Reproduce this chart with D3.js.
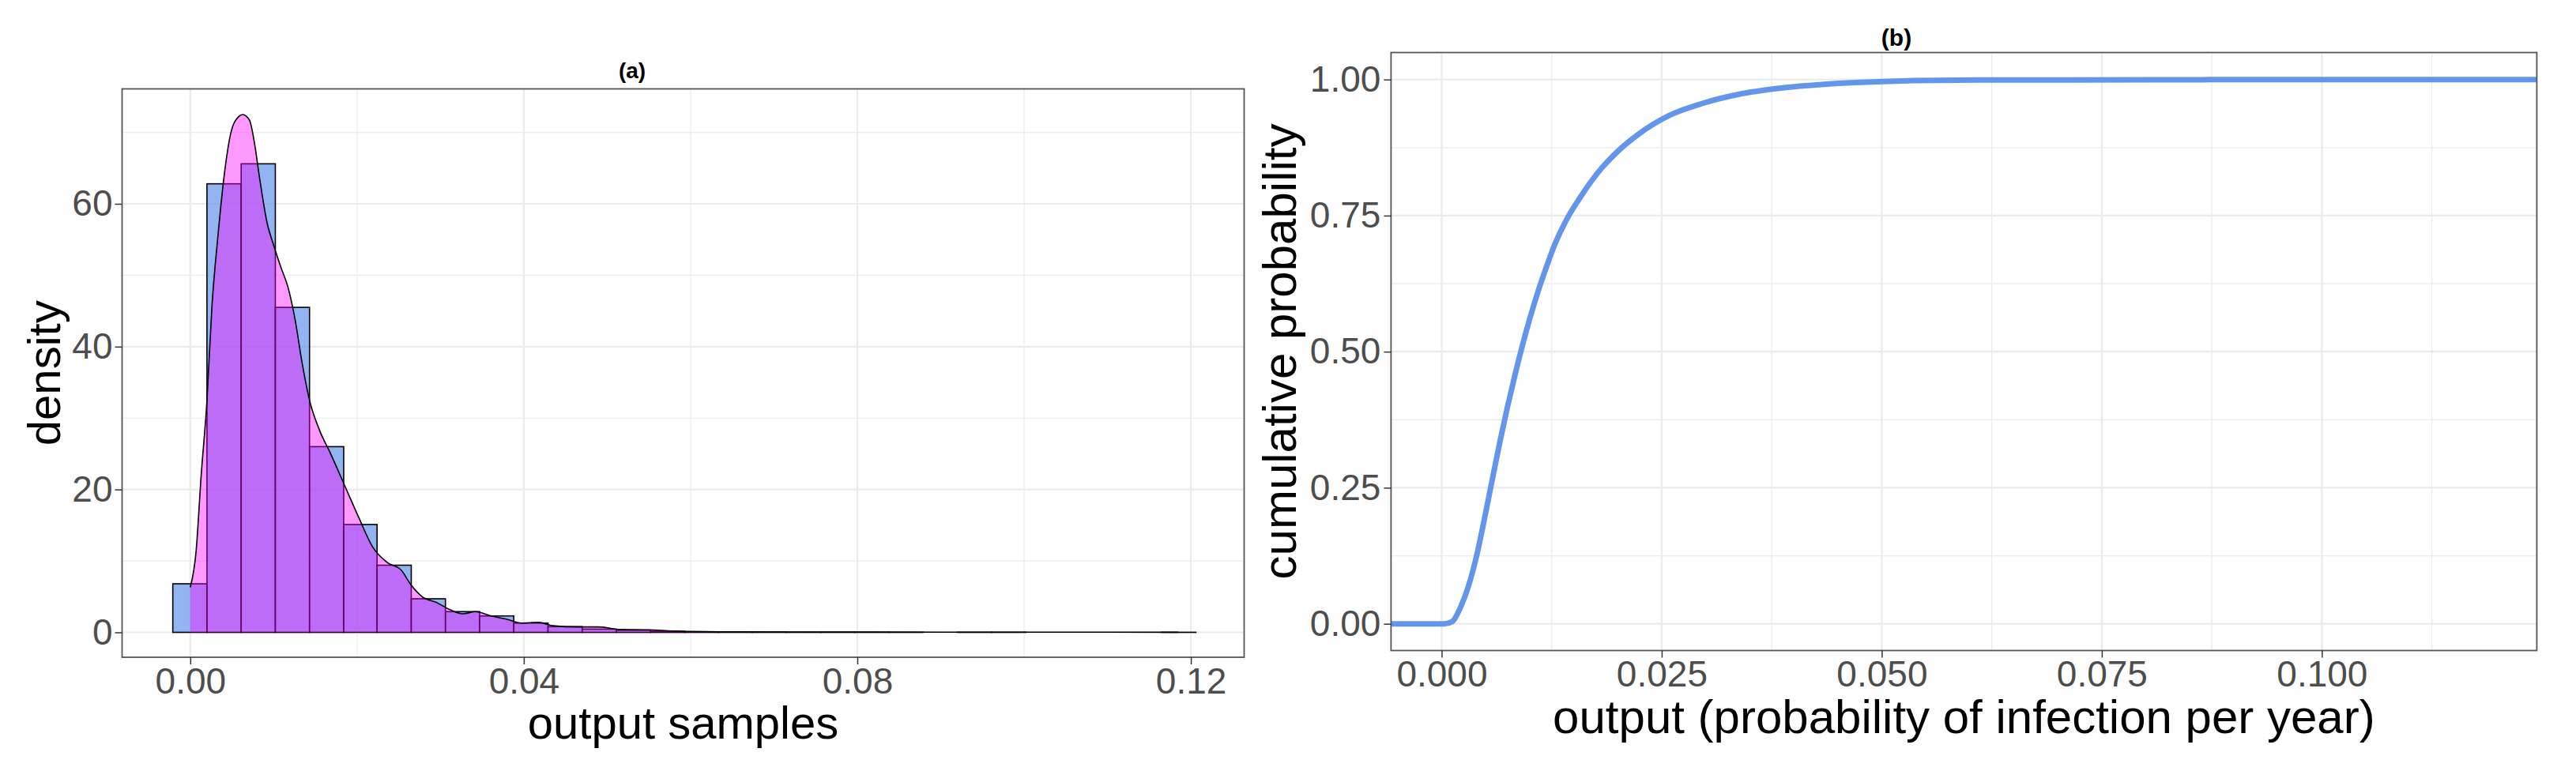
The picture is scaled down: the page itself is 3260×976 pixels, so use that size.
<!DOCTYPE html>
<html>
<head>
<meta charset="utf-8">
<script src="https://cdn.jsdelivr.net/npm/d3@7"></script>
<style>
  html, body { margin: 0; padding: 0; background: #ffffff; }
  svg { display: block; }
  text { font-family: "Liberation Sans", Arial, sans-serif; }
</style>
</head>
<body>
<svg id="chart" width="3260" height="976"></svg>
<script>
// ---------------- DATA ----------------
// Panel (a): histogram of output samples (density scale)
const binLeft = [-0.0021, 0.0020, 0.0061, 0.0102, 0.0143, 0.0184, 0.0224, 0.0265, 0.0306, 0.0347,
                 0.0388, 0.0429, 0.0470, 0.0511, 0.0552, 0.0593, 0.0633, 0.0674, 0.0715, 0.0756,
                 0.0797, 0.0838, 0.0879, 0.0920, 0.0961, 0.1002, 0.1042, 0.1083, 0.1124, 0.1165];
const binRight = [0.0020, 0.0061, 0.0102, 0.0143, 0.0184, 0.0224, 0.0265, 0.0306, 0.0347, 0.0388,
                  0.0429, 0.0470, 0.0511, 0.0552, 0.0593, 0.0633, 0.0674, 0.0715, 0.0756, 0.0797,
                  0.0838, 0.0879, 0.0920, 0.0961, 0.1002, 0.1042, 0.1083, 0.1124, 0.1165, 0.1206];
const binDensity = [6.8, 62.8, 65.6, 45.5, 26.0, 15.1, 9.4, 4.7, 2.9, 2.3,
                    1.3, 0.8, 0.45, 0.3, 0.15, 0.06, 0.04, 0.05, 0.02, 0.02,
                    0.02, 0.01, 0.0, 0.01, 0.01, 0.0, 0.0, 0.0, 0.0, 0.01];

// Panel (a): kernel density estimate
const kdeX = [0.0000, 0.0007, 0.0013, 0.0020, 0.0026, 0.0033, 0.0041, 0.0049, 0.0058, 0.0063,
              0.0071, 0.0077, 0.0083, 0.0092, 0.0100, 0.0109, 0.0117, 0.0126, 0.0134, 0.0143,
              0.0155, 0.0168, 0.0185, 0.0202, 0.0219, 0.0236, 0.0253, 0.0265, 0.0278, 0.0295,
              0.0312, 0.0327, 0.0342, 0.0359, 0.0380, 0.0397, 0.0418, 0.0435, 0.0465, 0.0490,
              0.0516, 0.0549, 0.0578, 0.0600, 0.0650, 0.0700, 0.0800, 0.0900, 0.1000, 0.1100, 0.1185];
const kdeY = [6.3, 11.4, 21.9, 32.5, 45.7, 55.3, 64.3, 70.1, 72.2, 72.5,
              71.7, 68.5, 63.7, 57.4, 54.2, 51.0, 48.4, 43.6, 37.8, 32.5,
              28.3, 25.1, 20.6, 16.1, 11.9, 9.8, 8.7, 6.6, 5.0, 4.2,
              3.15, 2.6, 2.9, 2.35, 1.83, 1.3, 1.4, 0.93, 0.76, 0.76,
              0.40, 0.36, 0.20, 0.12, 0.08, 0.05, 0.04, 0.03, 0.02, 0.02, 0.01];

// Panel (b): empirical cumulative distribution
const ecdfX = [-0.00575, 0.0003, 0.0012, 0.0021, 0.0030, 0.0039, 0.0048, 0.0057, 0.0066, 0.0075,
               0.0084, 0.0093, 0.0100, 0.0108, 0.0118, 0.0129, 0.0141, 0.0156, 0.0176, 0.0200,
               0.0224, 0.0260, 0.0296, 0.0338, 0.0384, 0.0465, 0.0515, 0.0610, 0.0800, 0.1000, 0.1244];
const ecdfY = [0.0, 0.0, 0.004, 0.029, 0.067, 0.120, 0.188, 0.261, 0.333, 0.400,
               0.462, 0.519, 0.560, 0.603, 0.651, 0.699, 0.740, 0.780, 0.826, 0.868,
               0.900, 0.935, 0.956, 0.973, 0.984, 0.994, 0.997, 0.999, 0.9995, 1.0, 1.0];

// Tick values & labels
const aXTicks = [0.00, 0.04, 0.08, 0.12];
const aXLabels = ["0.00", "0.04", "0.08", "0.12"];
const aXMinor = [0.02, 0.06, 0.10];
const aYTicks = [0, 20, 40, 60];
const aYLabels = ["0", "20", "40", "60"];
const aYMinor = [10, 30, 50, 70];

const bXTicks = [0.000, 0.025, 0.050, 0.075, 0.100];
const bXLabels = ["0.000", "0.025", "0.050", "0.075", "0.100"];
const bXMinor = [0.0125, 0.0375, 0.0625, 0.0875, 0.1125];
const bYTicks = [0.00, 0.25, 0.50, 0.75, 1.00];
const bYLabels = ["0.00", "0.25", "0.50", "0.75", "1.00"];
const bYMinor = [0.125, 0.375, 0.625, 0.875];

// ---------------- DRAWING ----------------
const svg = d3.select("#chart");
svg.append("rect").attr("width", 3260).attr("height", 976).attr("fill", "#ffffff");

const GRID = "#EBEBEB";
const BORDER = "#555555";
const TICKTXT = "#4D4D4D";

function grid(g, x, y, xMaj, xMin, yMaj, yMin, x0, x1, y0, y1) {
  g.selectAll(".gxm").data(xMin).join("line")
    .attr("x1", d => x(d)).attr("x2", d => x(d)).attr("y1", y0).attr("y2", y1)
    .attr("stroke", GRID).attr("stroke-width", 1.2);
  g.selectAll(".gym").data(yMin).join("line")
    .attr("y1", d => y(d)).attr("y2", d => y(d)).attr("x1", x0).attr("x2", x1)
    .attr("stroke", GRID).attr("stroke-width", 1.2);
  g.selectAll(".gxM").data(xMaj).join("line")
    .attr("x1", d => x(d)).attr("x2", d => x(d)).attr("y1", y0).attr("y2", y1)
    .attr("stroke", GRID).attr("stroke-width", 2.2);
  g.selectAll(".gyM").data(yMaj).join("line")
    .attr("y1", d => y(d)).attr("y2", d => y(d)).attr("x1", x0).attr("x2", x1)
    .attr("stroke", GRID).attr("stroke-width", 2.2);
}

function styleAxis(g, fontSize) {
  g.select(".domain").remove();
  g.selectAll(".tick line").attr("stroke", "#333333").attr("stroke-width", 1.5);
  g.selectAll(".tick text").attr("fill", TICKTXT).attr("font-size", fontSize)
    .attr("font-family", "Liberation Sans, Arial, sans-serif");
}

// ===== Panel (a) =====
const aL = 154.5, aR = 1574.5, aT = 112.5, aB = 832;
const xA = d3.scaleLinear().domain([-0.00818, 0.12639]).range([aL, aR]);
const yA = d3.scaleLinear().domain([-3.484, 76.09]).range([aB, aT]);

const gA = svg.append("g");
grid(gA, xA, yA, aXTicks, aXMinor, aYTicks, aYMinor, aL, aR, aT, aB);

// histogram bars
const bins = binLeft.map((l, i) => ({ x0: l, x1: binRight[i], d: binDensity[i] }));
gA.selectAll(".bar").data(bins).join("rect")
  .attr("x", d => xA(d.x0))
  .attr("y", d => yA(d.d))
  .attr("width", d => xA(d.x1) - xA(d.x0))
  .attr("height", d => yA(0) - yA(d.d))
  .attr("fill", "#6495ED").attr("fill-opacity", 0.7)
  .attr("stroke", "#000000").attr("stroke-width", 1.6);

// density
const kde = kdeX.map((x, i) => ({ x, y: kdeY[i] }));
const area = d3.area().x(d => xA(d.x)).y0(yA(0)).y1(d => yA(d.y)).curve(d3.curveMonotoneX);
const line = d3.line().x(d => xA(d.x)).y(d => yA(d.y)).curve(d3.curveMonotoneX);
gA.append("path").datum(kde).attr("d", area).attr("fill", "#FF00FF").attr("fill-opacity", 0.4);
gA.append("path").datum(kde).attr("d", line).attr("fill", "none")
  .attr("stroke", "#000000").attr("stroke-width", 1.6);

// border
gA.append("rect").attr("x", aL).attr("y", aT).attr("width", aR - aL).attr("height", aB - aT)
  .attr("fill", "none").attr("stroke", BORDER).attr("stroke-width", 1.8);

// axes
const axAX = gA.append("g").attr("transform", `translate(0,${aB})`)
  .call(d3.axisBottom(xA).tickValues(aXTicks).tickFormat((d, i) => aXLabels[i]).tickSize(9).tickPadding(4));
styleAxis(axAX, 46);
const axAY = gA.append("g").attr("transform", `translate(${aL},0)`)
  .call(d3.axisLeft(yA).tickValues(aYTicks).tickFormat((d, i) => aYLabels[i]).tickSize(9).tickPadding(3));
styleAxis(axAY, 46);

gA.append("text").attr("x", (aL + aR) / 2).attr("y", 935).attr("text-anchor", "middle")
  .attr("font-size", 58).attr("fill", "#000").text("output samples");
gA.append("text").attr("transform", `translate(76,${(aT + aB) / 2}) rotate(-90)`)
  .attr("text-anchor", "middle").attr("font-size", 58).attr("fill", "#000").text("density");
gA.append("text").attr("x", 800).attr("y", 99).attr("text-anchor", "middle")
  .attr("font-size", 28).attr("font-weight", "bold").attr("fill", "#000").text("(a)");

// ===== Panel (b) =====
const bL = 1760.4, bR = 3210.4, bT = 66.5, bB = 823.5;
const xB = d3.scaleLinear().domain([-0.00575, 0.12442]).range([bL, bR]);
const yB = d3.scaleLinear().domain([-0.0491, 1.0496]).range([bB, bT]);

const gB = svg.append("g");
grid(gB, xB, yB, bXTicks, bXMinor, bYTicks, bYMinor, bL, bR, bT, bB);

const ecdf = ecdfX.map((x, i) => ({ x, y: ecdfY[i] }));
gB.append("path").datum(ecdf)
  .attr("d", d3.line().x(d => xB(d.x)).y(d => yB(d.y)).curve(d3.curveMonotoneX))
  .attr("fill", "none").attr("stroke", "#6495ED").attr("stroke-width", 7)
  .attr("stroke-linejoin", "round");

gB.append("rect").attr("x", bL).attr("y", bT).attr("width", bR - bL).attr("height", bB - bT)
  .attr("fill", "none").attr("stroke", BORDER).attr("stroke-width", 1.8);

const axBX = gB.append("g").attr("transform", `translate(0,${bB})`)
  .call(d3.axisBottom(xB).tickValues(bXTicks).tickFormat((d, i) => bXLabels[i]).tickSize(9).tickPadding(4));
styleAxis(axBX, 46);
const axBY = gB.append("g").attr("transform", `translate(${bL},0)`)
  .call(d3.axisLeft(yB).tickValues(bYTicks).tickFormat((d, i) => bYLabels[i]).tickSize(9).tickPadding(4));
styleAxis(axBY, 46);

gB.append("text").attr("x", (bL + bR) / 2).attr("y", 928).attr("text-anchor", "middle")
  .attr("font-size", 60).attr("fill", "#000").text("output (probability of infection per year)");
gB.append("text").attr("transform", `translate(1640,${(bT + bB) / 2}) rotate(-90)`)
  .attr("text-anchor", "middle").attr("font-size", 60).attr("fill", "#000").text("cumulative probability");
gB.append("text").attr("x", 2400).attr("y", 58).attr("text-anchor", "middle")
  .attr("font-size", 30).attr("font-weight", "bold").attr("fill", "#000").text("(b)");
</script>
</body>
</html>
